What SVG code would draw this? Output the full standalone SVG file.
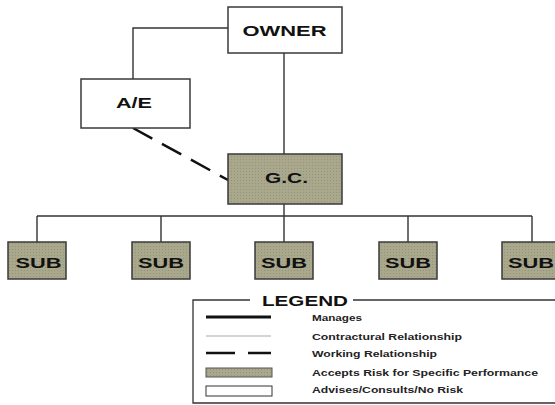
<svg xmlns="http://www.w3.org/2000/svg" width="555" height="405" viewBox="0 0 555 405">
<style>
.box{stroke:#3a3a3a;stroke-width:1.5}
.white{fill:#fff}
.risk{fill:url(#dots)}
.lbl{font-family:"Liberation Sans",Arial,sans-serif;font-weight:bold;font-size:15px;fill:#111;text-anchor:middle}
.leg{font-family:"Liberation Sans",Arial,sans-serif;font-weight:bold;font-size:9px;fill:#222}
.conn{stroke:#333;stroke-width:1.4;fill:none}
.dash{stroke:#111;stroke-width:2.5;fill:none;stroke-dasharray:22 11}
</style>
<defs>
<pattern id="dots" width="3" height="3" patternUnits="userSpaceOnUse"><rect width="3" height="3" fill="#a9a88c"/><rect width="1" height="1" fill="#95947a"/></pattern>
</defs>
<rect width="555" height="405" fill="#fff"/>
<g id="connectors">
<path class="conn" d="M284 53V154"/>
<path class="conn" d="M133 79V28H228"/>
<path class="dash" d="M133 128L228 180"/>
<path class="conn" d="M284 204V216M37 216H532M37 216V242M161 216V242M284 216V242M408 216V242M532 216V242"/>
</g>
<g id="owner"><rect class="box white" x="228" y="7" width="114" height="46"/><text class="lbl" x="284.5" y="35.5" textLength="84" lengthAdjust="spacingAndGlyphs">OWNER</text></g>
<g id="ae"><rect class="box white" x="81" y="79" width="109" height="49"/><text class="lbl" x="134" y="107.5" textLength="36" lengthAdjust="spacingAndGlyphs">A/E</text></g>
<g id="gc"><rect class="box risk" x="228" y="154" width="114" height="50"/><text class="lbl" x="286.5" y="182.5" textLength="43" lengthAdjust="spacingAndGlyphs">G.C.</text></g>
<g id="sub1"><rect class="box risk" x="8" y="242" width="58" height="37"/><text class="lbl" x="38.5" y="267.5" textLength="46" lengthAdjust="spacingAndGlyphs">SUB</text></g>
<g id="sub2"><rect class="box risk" x="132" y="242" width="58" height="37"/><text class="lbl" x="161" y="267.5" textLength="46" lengthAdjust="spacingAndGlyphs">SUB</text></g>
<g id="sub3"><rect class="box risk" x="255" y="242" width="58" height="37"/><text class="lbl" x="284" y="267.5" textLength="46" lengthAdjust="spacingAndGlyphs">SUB</text></g>
<g id="sub4"><rect class="box risk" x="379" y="242" width="58" height="37"/><text class="lbl" x="408" y="267.5" textLength="46" lengthAdjust="spacingAndGlyphs">SUB</text></g>
<g id="sub5"><rect class="box risk" x="502" y="242" width="58" height="37"/><text class="lbl" x="531" y="267.5" textLength="46" lengthAdjust="spacingAndGlyphs">SUB</text></g>
<g id="legend">
<path d="M250 300H193V403H555M353 300H555" fill="none" stroke="#333" stroke-width="1.3"/>
<text x="262" y="306" font-family="'Liberation Sans',Arial,sans-serif" font-weight="bold" font-size="14" fill="#111" textLength="86" lengthAdjust="spacingAndGlyphs">LEGEND</text>
<path d="M206 317H271" stroke="#111" stroke-width="3"/>
<path d="M206 336H271" stroke="#aaa" stroke-width="1"/>
<path d="M206 353H235M248 353H271" stroke="#111" stroke-width="2.5"/>
<rect x="206" y="368" width="66" height="9" fill="url(#dots)" stroke="#555" stroke-width="1"/>
<rect x="206" y="386" width="66" height="10" fill="#fff" stroke="#333" stroke-width="1"/>
<text class="leg" x="312" y="321" textLength="50" lengthAdjust="spacingAndGlyphs">Manages</text>
<text class="leg" x="312" y="340" textLength="150" lengthAdjust="spacingAndGlyphs">Contractural Relationship</text>
<text class="leg" x="312" y="357" textLength="125" lengthAdjust="spacingAndGlyphs">Working Relationship</text>
<text class="leg" x="312" y="376" textLength="226" lengthAdjust="spacingAndGlyphs">Accepts Risk for Specific Performance</text>
<text class="leg" x="312" y="393" textLength="151" lengthAdjust="spacingAndGlyphs">Advises/Consults/No Risk</text>
</g>
</svg>
